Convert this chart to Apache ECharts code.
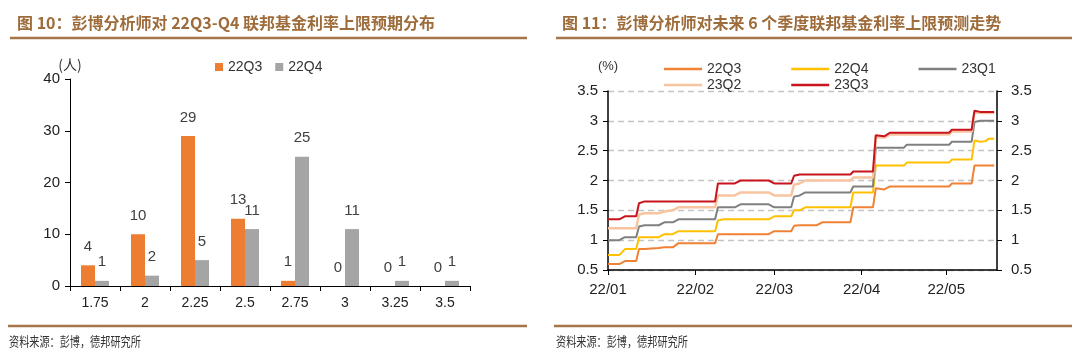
<!DOCTYPE html>
<html><head><meta charset="utf-8">
<script src="https://cdn.jsdelivr.net/npm/echarts@6/dist/echarts.min.js"></script>
<style>
html,body{margin:0;padding:0;background:#fff;}
#wrap{position:relative;width:1080px;height:364px;}
#left{position:absolute;left:0;top:0;width:540px;height:364px;}
#right{position:absolute;left:540px;top:0;width:540px;height:364px;}
</style>
</head><body><div id="wrap"><div id="left"></div><div id="right"></div></div>
<script>
// ---------- Figure 10 data ----------
const barCategories = ['1.75', '2', '2.25', '2.5', '2.75', '3', '3.25', '3.5'];
const bar22Q3 = [4, 10, 29, 13, 1, 0, 0, 0];
const bar22Q4 = [1, 2, 5, 11, 25, 11, 1, 1];

// ---------- Figure 11 data ----------
const lineDates = [
  '2022-01-01','2022-01-05','2022-01-07','2022-01-11','2022-01-12','2022-01-14','2022-01-19','2022-01-21',
  '2022-01-24','2022-01-26','2022-02-08','2022-02-09','2022-02-11','2022-02-15','2022-02-17','2022-02-27',
  '2022-03-01','2022-03-07','2022-03-08','2022-03-10','2022-03-12','2022-03-16','2022-03-18','2022-03-28',
  '2022-03-29','2022-04-05','2022-04-06','2022-04-09','2022-04-11','2022-04-16','2022-04-17','2022-05-02',
  '2022-05-03','2022-05-10','2022-05-11','2022-05-13','2022-05-15','2022-05-16','2022-05-18'
];
const line22Q3 = [0.60,0.60,0.65,0.65,0.85,0.85,0.87,0.88,0.88,0.95,0.95,1.10,1.10,1.10,1.10,1.10,
  1.15,1.15,1.24,1.25,1.25,1.25,1.30,1.30,1.55,1.55,1.87,1.85,1.90,1.90,1.90,1.90,1.95,1.95,2.25,2.25,2.25,2.25,2.25];
const line22Q4 = [0.75,0.75,0.85,0.85,1.05,1.05,1.05,1.10,1.10,1.15,1.15,1.33,1.35,1.35,1.35,1.35,
  1.40,1.40,1.50,1.50,1.55,1.55,1.55,1.55,1.80,1.80,2.25,2.25,2.25,2.25,2.30,2.30,2.35,2.35,2.67,2.65,2.66,2.70,2.70];
const line23Q1 = [1.00,1.00,1.05,1.05,1.23,1.25,1.25,1.30,1.30,1.35,1.35,1.55,1.55,1.55,1.60,1.60,
  1.55,1.55,1.73,1.75,1.80,1.80,1.80,1.80,1.90,1.90,2.55,2.55,2.55,2.55,2.60,2.60,2.65,2.65,2.98,3.00,3.00,3.00,3.00];
const line23Q2 = [1.20,1.20,1.20,1.20,1.43,1.45,1.45,1.48,1.50,1.55,1.55,1.75,1.75,1.75,1.80,1.80,
  1.75,1.75,1.93,1.95,2.00,2.00,2.00,2.00,2.05,2.05,2.73,2.72,2.77,2.77,2.77,2.77,2.82,2.82,3.14,3.13,3.13,3.13,3.13];
const line23Q3 = [1.35,1.35,1.40,1.40,1.62,1.65,1.65,1.65,1.65,1.65,1.65,1.95,1.95,1.95,2.00,2.00,
  1.95,1.95,2.08,2.10,2.10,2.10,2.10,2.10,2.15,2.15,2.76,2.74,2.80,2.80,2.80,2.80,2.85,2.85,3.17,3.15,3.15,3.15,3.15];

const titleLeft = '图 10：彭博分析师对 22Q3-Q4 联邦基金利率上限预期分布';
const titleRight = '图 11：彭博分析师对未来 6 个季度联邦基金利率上限预测走势';
const sourceText = '资料来源：彭博，德邦研究所';

const BROWN = '#9E6B3A';
const CJK = '"Noto Sans CJK SC", sans-serif';
const LAT = '"Liberation Sans", Arial, sans-serif';

function frame(x1, x2, fx) {
  return [
    { type: 'line', shape: { x1: x1, y1: 38, x2: x2, y2: 38 }, style: { stroke: '#A47548', lineWidth: 2.5 } },
    { type: 'line', shape: { x1: x1 - 2, y1: 326, x2: x2, y2: 326 }, style: { stroke: '#A47548', lineWidth: 2.5 } },
    { type: 'text', x: fx, y: 335, scaleX: 0.78, style: { text: sourceText, font: '13px ' + CJK, fill: '#333' } }
  ];
}

// ---------- Left chart ----------
const left = echarts.init(document.getElementById('left'), null, { renderer: 'canvas' });
left.setOption({
  animation: false,
  title: { text: titleLeft, left: 12, top: 10, textStyle: { fontFamily: CJK, fontWeight: 'bold', fontSize: 16, color: BROWN } },
  graphic: frame(10, 527, 9),
  legend: {
    data: ['22Q3', '22Q4'], left: 210, top: 55, itemWidth: 8, itemHeight: 8, itemGap: 13, icon: 'rect',
    textStyle: { fontFamily: LAT, fontSize: 14, color: '#333' }
  },
  grid: { left: 70, right: 70, top: 79, bottom: 78 },
  xAxis: {
    type: 'category', data: barCategories,
    axisLine: { lineStyle: { color: '#000', width: 1 } },
    axisTick: { show: true, length: 5, lineStyle: { color: '#000' } },
    axisLabel: { fontFamily: LAT, fontSize: 14, color: '#222', margin: 10 }
  },
  yAxis: {
    type: 'value', min: 0, max: 40, interval: 10,
    name: '(人)', nameLocation: 'end', nameGap: 6,
    nameTextStyle: { fontFamily: CJK, fontSize: 14, color: '#333', align: 'center' },
    axisLine: { show: true, lineStyle: { color: '#000', width: 1 } },
    axisTick: { show: true, length: 5, lineStyle: { color: '#000' } },
    axisLabel: { fontFamily: LAT, fontSize: 15, color: '#222', margin: 10 },
    splitLine: { show: false }
  },
  series: [
    { name: '22Q3', type: 'bar', data: bar22Q3, barGap: '0%', barCategoryGap: '44%',
      itemStyle: { color: '#ED7D31' },
      label: { show: true, position: 'top', distance: 11, fontFamily: LAT, fontSize: 15, color: '#404040' } },
    { name: '22Q4', type: 'bar', data: bar22Q4, barGap: '0%', barCategoryGap: '44%',
      itemStyle: { color: '#A5A5A5' },
      label: { show: true, position: 'top', distance: 11, fontFamily: LAT, fontSize: 15, color: '#404040' } }
  ]
});

// ---------- Right chart ----------
const right = echarts.init(document.getElementById('right'), null, { renderer: 'canvas' });
const DAY = 24 * 3600 * 1000;
function pairs(vals) { return lineDates.map((d, i) => [d, vals[i]]); }
const lineSeriesDefs = [
  { name: '22Q3', vals: line22Q3, color: '#F08235', width: 2 },
  { name: '22Q4', vals: line22Q4, color: '#FFC000', width: 2 },
  { name: '23Q1', vals: line23Q1, color: '#808080', width: 2 },
  { name: '23Q2', vals: line23Q2, color: '#F8C4A0', width: 2.5 },
  { name: '23Q3', vals: line23Q3, color: '#C8141C', width: 2 }
];
const legendBase = {
  left: 119, itemWidth: 38, itemHeight: 2.5, itemGap: 50, icon: 'rect',
  textStyle: { fontFamily: LAT, fontSize: 14, color: '#333' }
};
const yCommon = {
  type: 'value', min: 0.5, max: 3.5, interval: 0.5,
  axisLine: { show: true, lineStyle: { color: '#000', width: 1.5 } },
  axisTick: { show: true, length: 5, lineStyle: { color: '#000' } },
  axisLabel: { fontFamily: LAT, fontSize: 15, color: '#222' }
};
right.setOption({
  animation: false,
  title: { text: titleRight, left: 17, top: 10, textStyle: { fontFamily: CJK, fontWeight: 'bold', fontSize: 16, color: BROWN } },
  graphic: frame(16, 532, 16),
  legend: [
    Object.assign({ data: ['22Q3', '22Q4', '23Q1'], top: 57 }, legendBase),
    Object.assign({ data: ['23Q2', '23Q3'], top: 73 }, legendBase)
  ],
  grid: { left: 68, right: 83, top: 91, bottom: 94 },
  xAxis: {
    type: 'time', min: '2022-01-01', max: '2022-05-19',
    minInterval: 28 * DAY, maxInterval: 31 * DAY,
    axisLine: { lineStyle: { color: '#000', width: 1.5 } },
    axisTick: { show: true, length: 5, lineStyle: { color: '#000' } },
    splitLine: { show: false },
    axisLabel: {
      fontFamily: LAT, fontSize: 15, color: '#222', margin: 12,
      formatter: function (v) {
        const d = new Date(v);
        return String(d.getFullYear()).slice(2) + '/' + String(d.getMonth() + 1).padStart(2, '0');
      }
    }
  },
  yAxis: [
    Object.assign({
      position: 'left', name: '(%)', nameLocation: 'end', nameGap: 18,
      nameTextStyle: { fontFamily: LAT, fontSize: 13, color: '#333', align: 'center' },
      splitLine: { show: true, lineStyle: { color: '#C4C4C4', width: 1.3, type: [6, 4] } }
    }, yCommon, { axisLabel: Object.assign({}, yCommon.axisLabel, { margin: 10 }) }),
    Object.assign({ position: 'right', splitLine: { show: false } }, yCommon,
      { axisLabel: Object.assign({}, yCommon.axisLabel, { margin: 14 }) })
  ],
  series: lineSeriesDefs.map(s => ({
    name: s.name, type: 'line', data: pairs(s.vals), showSymbol: false, symbol: 'none',
    lineStyle: { color: s.color, width: s.width }, itemStyle: { color: s.color }
  }))
});
</script>
</body></html>
